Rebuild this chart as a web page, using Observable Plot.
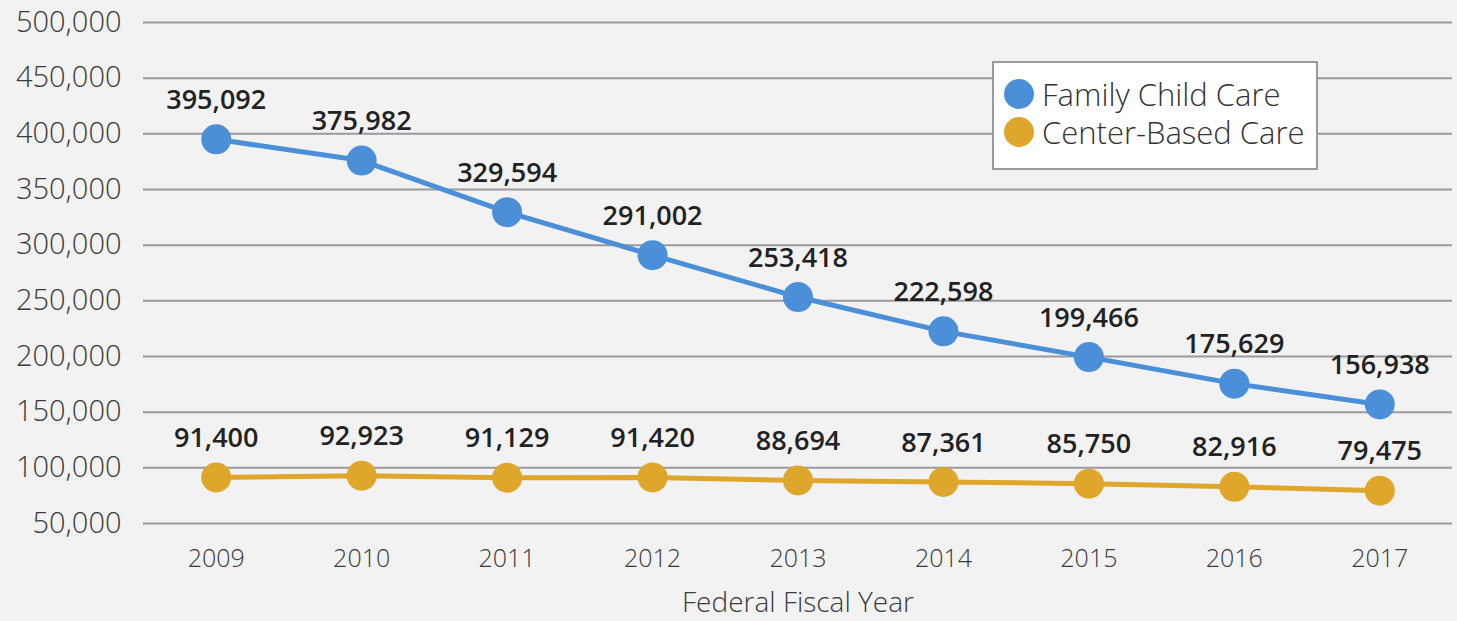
<!DOCTYPE html>
<html>
<head>
<meta charset="utf-8">
<script src="https://cdn.jsdelivr.net/npm/d3@7"></script>
<script src="https://cdn.jsdelivr.net/npm/@observablehq/plot@0.6"></script>
<style>
  html, body { margin: 0; padding: 0; background: #f3f2f3; }
  #wrap { position: relative; width: 1457px; height: 621px; overflow: hidden; font-family: "Open Sans", sans-serif; }
  #legend { position: absolute; left: 992px; top: 61px; width: 326px; height: 109px; background: #fff; border: 2px solid #9a9a9e; box-sizing: border-box; }
  .row { position: absolute; left: 10px; display: flex; align-items: center; font-size: 31px; color: #333; font-weight: 300; white-space: nowrap; }
  .dot { width: 30px; height: 30px; border-radius: 50%; margin-right: 8px; }
</style>
</head>
<body>
<div id="wrap"></div>
<script>
const years = [2009, 2010, 2011, 2012, 2013, 2014, 2015, 2016, 2017];
const familyChildCare = [395092, 375982, 329594, 291002, 253418, 222598, 199466, 175629, 156938];
const centerBasedCare = [91400, 92923, 91129, 91420, 88694, 87361, 85750, 82916, 79475];
const seriesNames = ["Family Child Care", "Center-Based Care"];
const seriesColors = ["#4a8fd7", "#dea62a"];
const yTicks = [50000, 100000, 150000, 200000, 250000, 300000, 350000, 400000, 450000, 500000];

const data = [];
years.forEach((yr, i) => {
  data.push({year: String(yr), value: familyChildCare[i], series: seriesNames[0]});
  data.push({year: String(yr), value: centerBasedCare[i], series: seriesNames[1]});
});
const fmt = d3.format(",");

const chart = Plot.plot({
  width: 1457,
  height: 621,
  marginLeft: 143,
  marginRight: 5,
  marginTop: 22,
  marginBottom: 98,
  style: {background: "transparent", fontFamily: "'Open Sans', sans-serif", overflow: "visible"},
  x: {type: "point", domain: years.map(String), padding: 0.5, round: false},
  y: {domain: [50000, 500000]},
  color: {domain: seriesNames, range: seriesColors},
  marks: [
    Plot.ruleY(yTicks, {stroke: "#9a9a9e", strokeWidth: 2}),
    Plot.axisY({ticks: yTicks, tickFormat: fmt, tickSize: 0, tickPadding: 22, fontSize: 29, fill: "#3a3a3a", fontWeight: 300, label: null}),
    Plot.axisX({tickSize: 0, tickPadding: 26, fontSize: 25, fill: "#3a3a3a", fontWeight: 300, label: null}),
    Plot.text(["Federal Fiscal Year"], {frameAnchor: "bottom", dy: 88, fontSize: 28, fill: "#3a3a3a", fontWeight: 300}),
    Plot.line(data, {x: "year", y: "value", z: "series", stroke: "series", strokeWidth: 5}),
    Plot.dot(data, {x: "year", y: "value", fill: "series", r: 15}),
    Plot.text(data, {x: "year", y: "value", text: d => fmt(d.value), dy: -39, fontSize: 27, fontWeight: 600, fill: "#222"})
  ]
});
const wrap = document.getElementById("wrap");
wrap.appendChild(chart);
const legend = document.createElement("div");
legend.id = "legend";
seriesNames.forEach((name, i) => {
  const row = document.createElement("div");
  row.className = "row";
  row.style.top = (i === 0 ? 10 : 48) + "px";
  const dot = document.createElement("span");
  dot.className = "dot";
  dot.style.background = seriesColors[i];
  const t = document.createElement("span");
  t.textContent = name;
  row.appendChild(dot);
  row.appendChild(t);
  legend.appendChild(row);
});
wrap.appendChild(legend);
</script>
</body>
</html>
